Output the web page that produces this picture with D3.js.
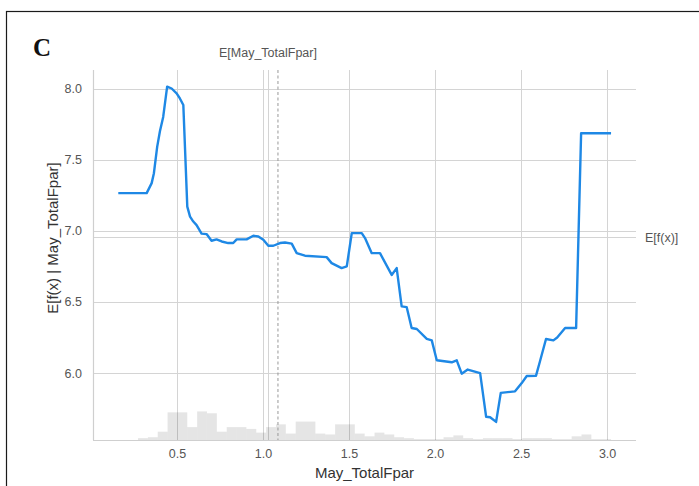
<!DOCTYPE html>
<html>
<head>
<meta charset="utf-8">
<script src="https://cdn.jsdelivr.net/npm/d3@7"></script>
<style>
  html, body { margin: 0; padding: 0; background: #fff; }
  svg { display: block; }
  text { font-family: "Liberation Sans", Arial, sans-serif; }
</style>
</head>
<body>
<svg id="chart" width="699" height="486"></svg>
<script>
// Partial dependence of the model output on May_TotalFpar
const featureName = "May_TotalFpar";
const panelLabel = "C";

// grid of feature values and the expected model output at each
const pdX = [0.159, 0.324, 0.353, 0.366, 0.385, 0.401, 0.420, 0.443, 0.469, 0.498,
  0.517, 0.537, 0.560, 0.576, 0.595, 0.614, 0.643, 0.672, 0.701, 0.730,
  0.760, 0.798, 0.827, 0.847, 0.905, 0.944, 0.973, 1.002, 1.031, 1.060,
  1.099, 1.128, 1.167, 1.196, 1.244, 1.370, 1.399, 1.457, 1.487, 1.516,
  1.574, 1.593, 1.632, 1.680, 1.748, 1.777, 1.806, 1.835, 1.864, 1.894,
  1.952, 1.981, 2.010, 2.097, 2.126, 2.155, 2.190, 2.262, 2.297, 2.320,
  2.355, 2.382, 2.465, 2.504, 2.533, 2.587, 2.610, 2.645, 2.688, 2.710,
  2.756, 2.814, 2.820, 2.849, 3.023];
const pdY = [7.265, 7.265, 7.335, 7.405, 7.590, 7.700, 7.800, 8.013, 8.000, 7.966,
  7.930, 7.884, 7.170, 7.100, 7.065, 7.040, 6.980, 6.977, 6.930, 6.940,
  6.925, 6.914, 6.914, 6.940, 6.940, 6.965, 6.960, 6.937, 6.895, 6.895,
  6.914, 6.918, 6.910, 6.843, 6.825, 6.815, 6.773, 6.738, 6.750, 6.984,
  6.984, 6.949, 6.843, 6.843, 6.690, 6.738, 6.469, 6.464, 6.317, 6.310,
  6.240, 6.230, 6.090, 6.076, 6.090, 5.996, 6.025, 6.000, 5.693, 5.690,
  5.657, 5.861, 5.872, 5.930, 5.980, 5.982, 6.083, 6.240, 6.230, 6.250,
  6.317, 6.317, 6.317, 7.686, 7.686];

// sample counts of the feature in 50 equal bins over the grid range
const histCounts = [0, 0, 2, 3, 9, 30, 30, 14, 31, 29,
  9, 14, 14, 12, 8, 14, 17, 7, 20, 20,
  7, 6, 17, 17, 7, 4, 8, 6, 3, 2,
  1, 1, 1, 3, 5, 2, 1, 2, 2, 2,
  1, 2, 2, 2, 1, 1, 4, 6, 1, 1];

// expected values
const featureMean = 1.087;      // E[May_TotalFpar]
const featureMeanTick = 1.029;  // twin-axis tick for the label
const outputMean = 6.955;       // E[f(x)]

const xTicks = [0.5, 1.0, 1.5, 2.0, 2.5, 3.0];
const yTicks = [6.0, 6.5, 7.0, 7.5, 8.0];

const svg = d3.select("#chart");
const plot = { left: 93, right: 636, top: 70, bottom: 440 };

const x = d3.scaleLinear().domain([0.012, 3.168]).range([plot.left, plot.right]);
const y = d3.scaleLinear().domain([5.53, 8.13]).range([plot.bottom, plot.top]);
const yHist = d3.scaleLinear().domain([0, d3.sum(histCounts)]).range([plot.bottom, plot.top]);

// outer frame of the panel
svg.append("rect")
  .attr("x", 6.5).attr("y", 11.5)
  .attr("width", 720).attr("height", 520)
  .attr("fill", "none").attr("stroke", "#1a1a1a").attr("stroke-width", 1.2);

svg.append("text")
  .attr("x", 33).attr("y", 56)
  .style("font-family", "'Liberation Serif', 'Times New Roman', serif")
  .attr("font-weight", "bold").attr("font-size", 25)
  .attr("fill", "#111")
  .text(panelLabel);

const gridColor = "#d4d4d4";

// horizontal grid
svg.append("g").selectAll("line").data(yTicks).join("line")
  .attr("x1", plot.left).attr("x2", plot.right)
  .attr("y1", d => Math.round(y(d)) + 0.5).attr("y2", d => Math.round(y(d)) + 0.5)
  .attr("stroke", gridColor).attr("stroke-width", 1);

// vertical grid
svg.append("g").selectAll("line").data(xTicks).join("line")
  .attr("x1", d => Math.round(x(d)) + 0.5).attr("x2", d => Math.round(x(d)) + 0.5)
  .attr("y1", plot.top).attr("y2", plot.bottom)
  .attr("stroke", gridColor).attr("stroke-width", 1);

// twin-axis grid lines at the expected values
svg.append("line")
  .attr("x1", Math.round(x(featureMeanTick)) + 0.5).attr("x2", Math.round(x(featureMeanTick)) + 0.5)
  .attr("y1", plot.top).attr("y2", plot.bottom)
  .attr("stroke", gridColor).attr("stroke-width", 1);
svg.append("line")
  .attr("x1", plot.left).attr("x2", plot.right)
  .attr("y1", Math.round(y(outputMean)) + 0.5).attr("y2", Math.round(y(outputMean)) + 0.5)
  .attr("stroke", gridColor).attr("stroke-width", 1);

// histogram of the feature
const binW = (pdX[pdX.length - 1] - pdX[0]) / histCounts.length;
svg.append("g").selectAll("rect").data(histCounts).join("rect")
  .attr("x", (d, i) => x(pdX[0] + i * binW))
  .attr("width", (d, i) => x(pdX[0] + (i + 1) * binW) - x(pdX[0] + i * binW))
  .attr("y", d => yHist(d))
  .attr("height", d => plot.bottom - yHist(d))
  .attr("fill", "#000").attr("fill-opacity", 0.1);

// expected feature value
svg.append("line")
  .attr("x1", x(featureMean)).attr("x2", x(featureMean))
  .attr("y1", plot.top).attr("y2", plot.bottom)
  .attr("stroke", "#999").attr("stroke-width", 1)
  .attr("stroke-dasharray", "3,2.5");

// spines
svg.append("line")
  .attr("x1", plot.left + 0.5).attr("x2", plot.left + 0.5)
  .attr("y1", plot.top).attr("y2", plot.bottom)
  .attr("stroke", "#cfcfcf").attr("stroke-width", 1.2);
svg.append("line")
  .attr("x1", plot.left).attr("x2", plot.right)
  .attr("y1", plot.bottom + 0.5).attr("y2", plot.bottom + 0.5)
  .attr("stroke", "#cfcfcf").attr("stroke-width", 1.2);

// partial dependence line
const line = d3.line().x(d => x(d[0])).y(d => y(d[1]));
svg.append("path")
  .datum(pdX.map((v, i) => [v, pdY[i]]))
  .attr("d", line)
  .attr("fill", "none").attr("stroke", "#1E88E5")
  .attr("stroke-width", 2.4).attr("stroke-linejoin", "round");

// axes (tick labels only)
const xAxis = svg.append("g")
  .attr("transform", `translate(0,${plot.bottom})`)
  .call(d3.axisBottom(x).tickValues(xTicks).tickFormat(d3.format(".1f")).tickSize(0).tickPadding(9));
const yAxis = svg.append("g")
  .attr("transform", `translate(${plot.left},0)`)
  .call(d3.axisLeft(y).tickValues(yTicks).tickFormat(d3.format(".1f")).tickSize(0).tickPadding(11));
[xAxis, yAxis].forEach(g => {
  g.select(".domain").remove();
  g.selectAll("text")
    .attr("font-family", "'Liberation Sans', Arial, sans-serif")
    .attr("font-size", 12.5).attr("fill", "#555");
});

// right-hand label for E[f(x)]
svg.append("text")
  .attr("x", 645).attr("y", y(outputMean))
  .attr("dy", "0.35em")
  .attr("font-size", 12.5).attr("fill", "#555")
  .text("E[f(x)]");

// top label for E[feature]
svg.append("text")
  .attr("x", x(featureMeanTick)).attr("y", 57)
  .attr("text-anchor", "middle")
  .attr("font-size", 12.5).attr("fill", "#555")
  .text(`E[${featureName}]`);

// axis titles
svg.append("text")
  .attr("x", (plot.left + plot.right) / 2).attr("y", 478)
  .attr("text-anchor", "middle")
  .attr("font-size", 15).attr("fill", "#333")
  .text(featureName);
svg.append("text")
  .attr("transform", `translate(58,238) rotate(-90)`)
  .attr("text-anchor", "middle")
  .attr("font-size", 15).attr("fill", "#333")
  .text(`E[f(x) | ${featureName}]`);
</script>
</body>
</html>
